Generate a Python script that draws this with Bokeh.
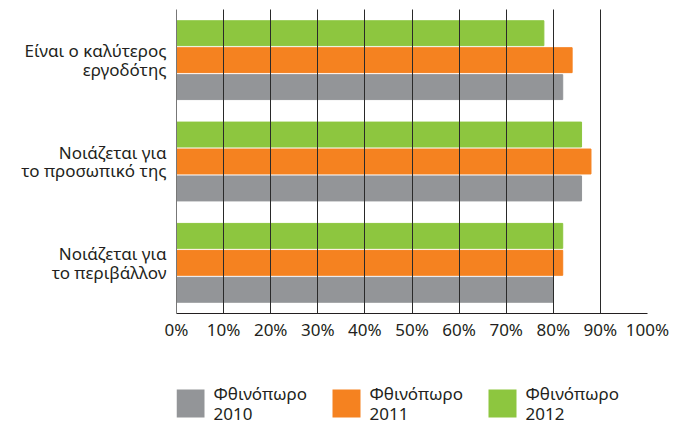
from bokeh.plotting import figure
from bokeh.layouts import column
from bokeh.models import FactorRange, FixedTicker, ColumnDataSource, Range1d
from bokeh.transform import dodge
from bokeh.core.properties import value
from bokeh.embed import file_html
from bokeh.resources import INLINE

categories = ["Νοιάζεται για\nτο περιβάλλον", "Νοιάζεται για\nτο προσωπικό της", "Είναι ο καλύτερος\nεργοδότης"]
series_names = ["Φθινόπωρο\n2010", "Φθινόπωρο\n2011", "Φθινόπωρο\n2012"]
values_2010 = [80, 86, 82]
values_2011 = [82, 88, 84]
values_2012 = [82, 86, 78]
tick_values = [0, 10, 20, 30, 40, 50, 60, 70, 80, 90, 100]
tick_labels = ["0%", "10%", "20%", "30%", "40%", "50%", "60%", "70%", "80%", "90%", "100%"]

colors = ["#939598", "#F58220", "#8DC63F"]
FONT = "Noto Sans"
TXT = "#231F20"

src = ColumnDataSource(dict(cat=categories, v2010=values_2010, v2011=values_2011, v2012=values_2012))

p = figure(width=688, height=345, y_range=FactorRange(*categories), x_range=(0, 100),
           output_backend="svg", toolbar_location=None,
           min_border_left=176, min_border_right=41, min_border_top=9, min_border_bottom=32)
p.outline_line_color = None

bh = 0.246
p.hbar(y=dodge("cat", -0.266, range=p.y_range), right="v2010", left=0, height=bh, color=colors[0], source=src)
p.hbar(y=dodge("cat", 0.0, range=p.y_range), right="v2011", left=0, height=bh, color=colors[1], source=src)
p.hbar(y=dodge("cat", 0.266, range=p.y_range), right="v2012", left=0, height=bh, color=colors[2], source=src)

p.xaxis.ticker = FixedTicker(ticks=tick_values)
p.xaxis.major_label_overrides = {t: l for t, l in zip(tick_values, tick_labels)}
p.xaxis.major_tick_in = 0
p.xaxis.major_tick_out = 0
p.xaxis.minor_tick_line_color = None
p.xaxis.axis_line_color = "#231F20"
p.xaxis.axis_line_width = 1.2
p.xaxis.major_label_standoff = 4
p.xaxis.major_label_text_font = FONT
p.xaxis.major_label_text_font_size = "17px"
p.xaxis.major_label_text_color = TXT

p.yaxis.major_tick_line_color = None
p.yaxis.major_tick_out = 0
p.yaxis.major_tick_in = 0
p.yaxis.minor_tick_line_color = None
p.yaxis.axis_line_color = "#777777"
p.yaxis.major_label_standoff = 10
p.yaxis.major_label_text_font = FONT
p.yaxis.major_label_text_font_size = "17px"
p.yaxis.major_label_text_color = TXT
p.yaxis.major_label_text_line_height = 0.82

p.ygrid.grid_line_color = None
p.xgrid.grid_line_color = "#2a2a2a"
p.xgrid.grid_line_width = 1
p.xgrid.level = "overlay"

# legend row, one entry per series, positioned by the series index
# (the column layout aligns this frame with the chart frame: 471 px wide)
leg_src = ColumnDataSource(dict(idx=list(range(len(series_names))), name=series_names, color=colors))
unit = 156.0
frame_w = 471.0
x0 = -14.0 / unit
lg = figure(width=688, height=80, x_range=Range1d(x0, x0 + frame_w / unit), y_range=Range1d(-22, 58),
            output_backend="svg", toolbar_location=None, x_axis_location=None, y_axis_location=None,
            min_border_left=0, min_border_right=0, min_border_top=0, min_border_bottom=0)
lg.outline_line_color = None
lg.xgrid.visible = False
lg.ygrid.visible = False
lg.rect(x="idx", y=0, width=28, height=28, width_units="screen", height_units="screen",
        fill_color="color", line_color=None, source=leg_src)
lg.text(x="idx", y=0, text="name", x_offset=23, y_offset=0, text_baseline="middle", text_align="left",
        text_font=value(FONT), text_font_size="17px", text_color=TXT, text_line_height=0.88,
        source=leg_src)

layout = column(p, lg, spacing=0)
open("out.html", "w").write(file_html(layout, INLINE))
